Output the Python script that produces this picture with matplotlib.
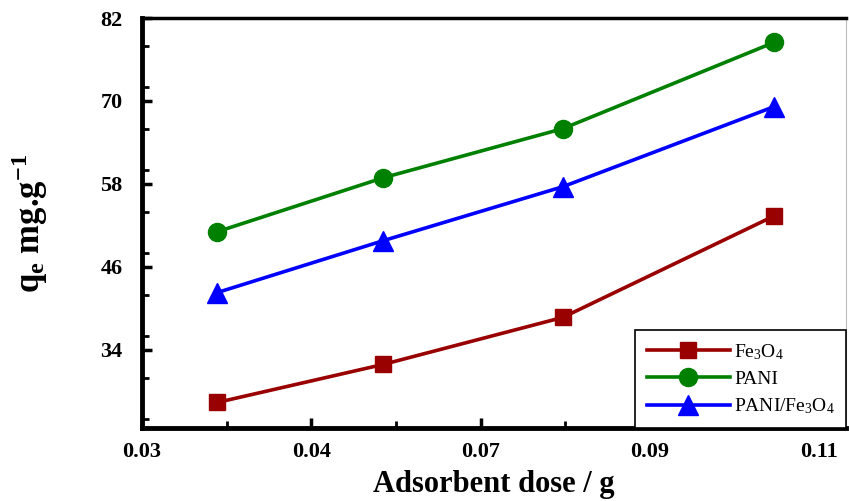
import matplotlib
matplotlib.use("Agg")
import matplotlib.pyplot as plt
from matplotlib.ticker import FixedLocator, MultipleLocator

plt.rcParams["font.family"] = "Liberation Serif"
plt.rcParams["mathtext.fontset"] = "custom"
plt.rcParams["mathtext.rm"] = "Liberation Serif"
plt.rcParams["mathtext.it"] = "Liberation Serif:italic"
plt.rcParams["mathtext.bf"] = "Liberation Serif:bold"

# adsorbent dose (g) and uptake qe (mg/g)
dose = [0.0389, 0.0585, 0.0797, 0.1047]
qe_fe3o4 = [26.4, 31.9, 38.7, 53.4]
qe_pani = [51.1, 58.9, 66.0, 78.5]
qe_pani_fe3o4 = [42.3, 49.8, 57.6, 69.2]

x_ticks = [0.03, 0.05, 0.07, 0.09, 0.11]
x_ticklabels = ["0.03", "0.04", "0.07", "0.09", "0.11"]
y_ticks = [34, 46, 58, 70, 82]

fig = plt.figure(figsize=(8.49, 5.01), dpi=100)
ax = fig.add_axes([0.1673, 0.1457, 0.8297, 0.8183])

ax.plot(dose, qe_fe3o4, color="#990000", lw=2.6, marker="s", ms=12,
        label=r"Fe$_3$O$_4$")
ax.plot(dose, qe_pani, color="#008000", lw=2.6, marker="o", ms=13,
        label="PANI")
ax.plot(dose, qe_pani_fe3o4, color="#0000FF", lw=2.6, marker="^", ms=15,
        label=r"PANI/Fe$_3$O$_4$")

ax.set_xlim(0.03, 0.1132)
ax.set_ylim(22.7, 82)
ax.xaxis.set_major_locator(FixedLocator(x_ticks))
ax.set_xticklabels(x_ticklabels)
ax.xaxis.set_minor_locator(MultipleLocator(0.01))
ax.yaxis.set_major_locator(FixedLocator(y_ticks))
ax.yaxis.set_minor_locator(MultipleLocator(6))

ax.tick_params(which="major", direction="in", length=7, width=2.5,
               labelsize=16, pad=10)
ax.tick_params(axis="y", which="major", pad=14)
ax.tick_params(which="minor", direction="in", length=5, width=2)
ax.tick_params(top=False, right=False, which="both")
for lbl in ax.get_xticklabels() + ax.get_yticklabels():
    lbl.set_fontweight("bold")

ax.spines["left"].set_linewidth(3.5)
ax.spines["bottom"].set_linewidth(3.5)
ax.spines["top"].set_linewidth(2.5)
ax.spines["right"].set_linewidth(0.8)
ax.spines["right"].set_color("#bbbbbb")

ax.set_xlabel("Adsorbent dose / g", fontsize=22, fontweight="bold",
              labelpad=6)
ax.set_ylabel(r"q$_\mathbf{e}$ mg.g$^{\mathbf{-1}}$", fontsize=25,
              fontweight="bold", labelpad=36)

leg = ax.legend(loc="lower right", bbox_to_anchor=(1.0, 0.0),
                borderaxespad=0, fontsize=14, handlelength=4.3,
                labelspacing=0.45, fancybox=False, framealpha=1,
                edgecolor="black", handletextpad=0.2, borderpad=0.6)
leg.get_frame().set_linewidth(1.2)

fig.savefig("out.png", dpi=100)
